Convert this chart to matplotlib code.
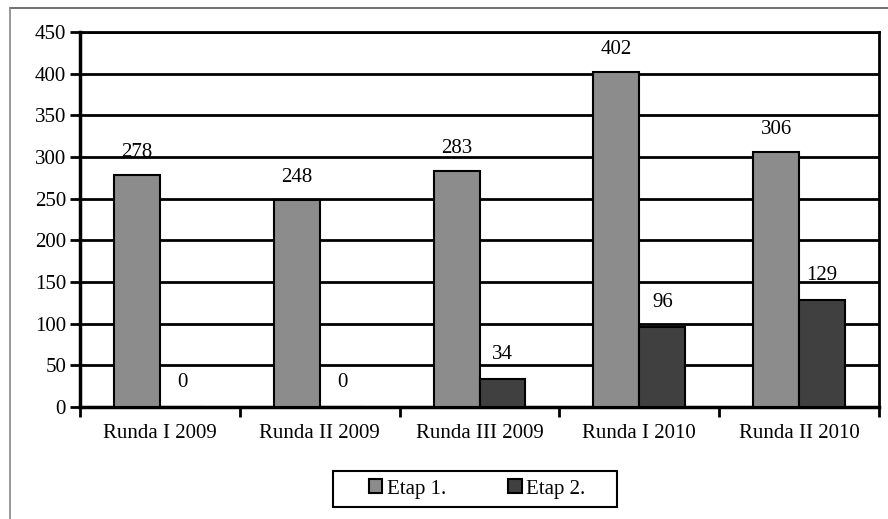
import numpy as np
import matplotlib.pyplot as plt
from matplotlib.lines import Line2D
from matplotlib.patches import Rectangle

plt.rcParams['font.family'] = ['Liberation Serif', 'DejaVu Serif']

rounds = ["Runda I 2009", "Runda II 2009", "Runda III 2009", "Runda I 2010", "Runda II 2010"]
etap1 = [278, 248, 283, 402, 306]
etap2 = [0, 0, 34, 96, 129]
yticks = [0, 50, 100, 150, 200, 250, 300, 350, 400, 450]

fig = plt.figure(figsize=(8.88, 5.19), dpi=100)
ax = fig.add_axes([80 / 888, 1 - 407 / 519, 799 / 888, 375 / 519])

x = np.arange(len(rounds))
w = 0.2875
b1 = ax.bar(x - w / 2, etap1, w, color="#8c8c8c", edgecolor="black", linewidth=1.5, label="Etap 1.", zorder=3)
b2 = ax.bar(x + w / 2, etap2, w, color="#404040", edgecolor="black", linewidth=1.5, label="Etap 2.", zorder=3)

for xi, v in zip(x - w / 2, etap1):
    ax.annotate(str(v), (xi, v), xytext=(0, 16.5), textcoords="offset points",
                ha="center", va="center", fontsize=15)
for xi, v in zip(x + w / 2, etap2):
    ax.annotate(str(v), (xi, v), xytext=(0, 17.5), textcoords="offset points",
                ha="center", va="center", fontsize=15)

ax.set_xlim(-0.5, len(rounds) - 0.5)
ax.set_ylim(0, 450)
ax.set_yticks(yticks)
ax.yaxis.grid(True, color="black", linewidth=2)
ax.set_axisbelow(True)

ax.set_xticks(x)
ax.set_xticklabels(rounds, fontsize=15)
ax.tick_params(axis="x", length=0, pad=12)
ax.set_xticks(np.arange(len(rounds) + 1) - 0.5, minor=True)
ax.tick_params(axis="x", which="minor", length=7, width=2)
ax.tick_params(axis="y", labelsize=15, length=7, width=2, pad=3)

for side in ["left", "bottom"]:
    ax.spines[side].set_linewidth(2.5)
for side in ["top", "right"]:
    ax.spines[side].set_linewidth(2)

fig.legend(handles=[b1, b2], loc="center", bbox_to_anchor=(477 / 888, 1 - 489 / 519),
           ncol=2, fontsize=15, frameon=False,
           handlelength=0.65, handleheight=0.65, handletextpad=0.2, columnspacing=3.0,
           borderpad=0, borderaxespad=0)
# legend box, wider than the entries
fig.add_artist(Rectangle((333 / 888, 1 - 507 / 519), 284 / 888, 36 / 519,
                         transform=fig.transFigure, fill=False, edgecolor="black", linewidth=1.5))

# page border lines along top and left edge
fig.add_artist(Line2D([10 / 888, 1], [1 - 8 / 519, 1 - 8 / 519], color="#555555", linewidth=1.2))
fig.add_artist(Line2D([10 / 888, 10 / 888], [0, 1 - 8 / 519], color="#888888", linewidth=1.2))

fig.savefig("out.png", dpi=100)
plt.close(fig)
